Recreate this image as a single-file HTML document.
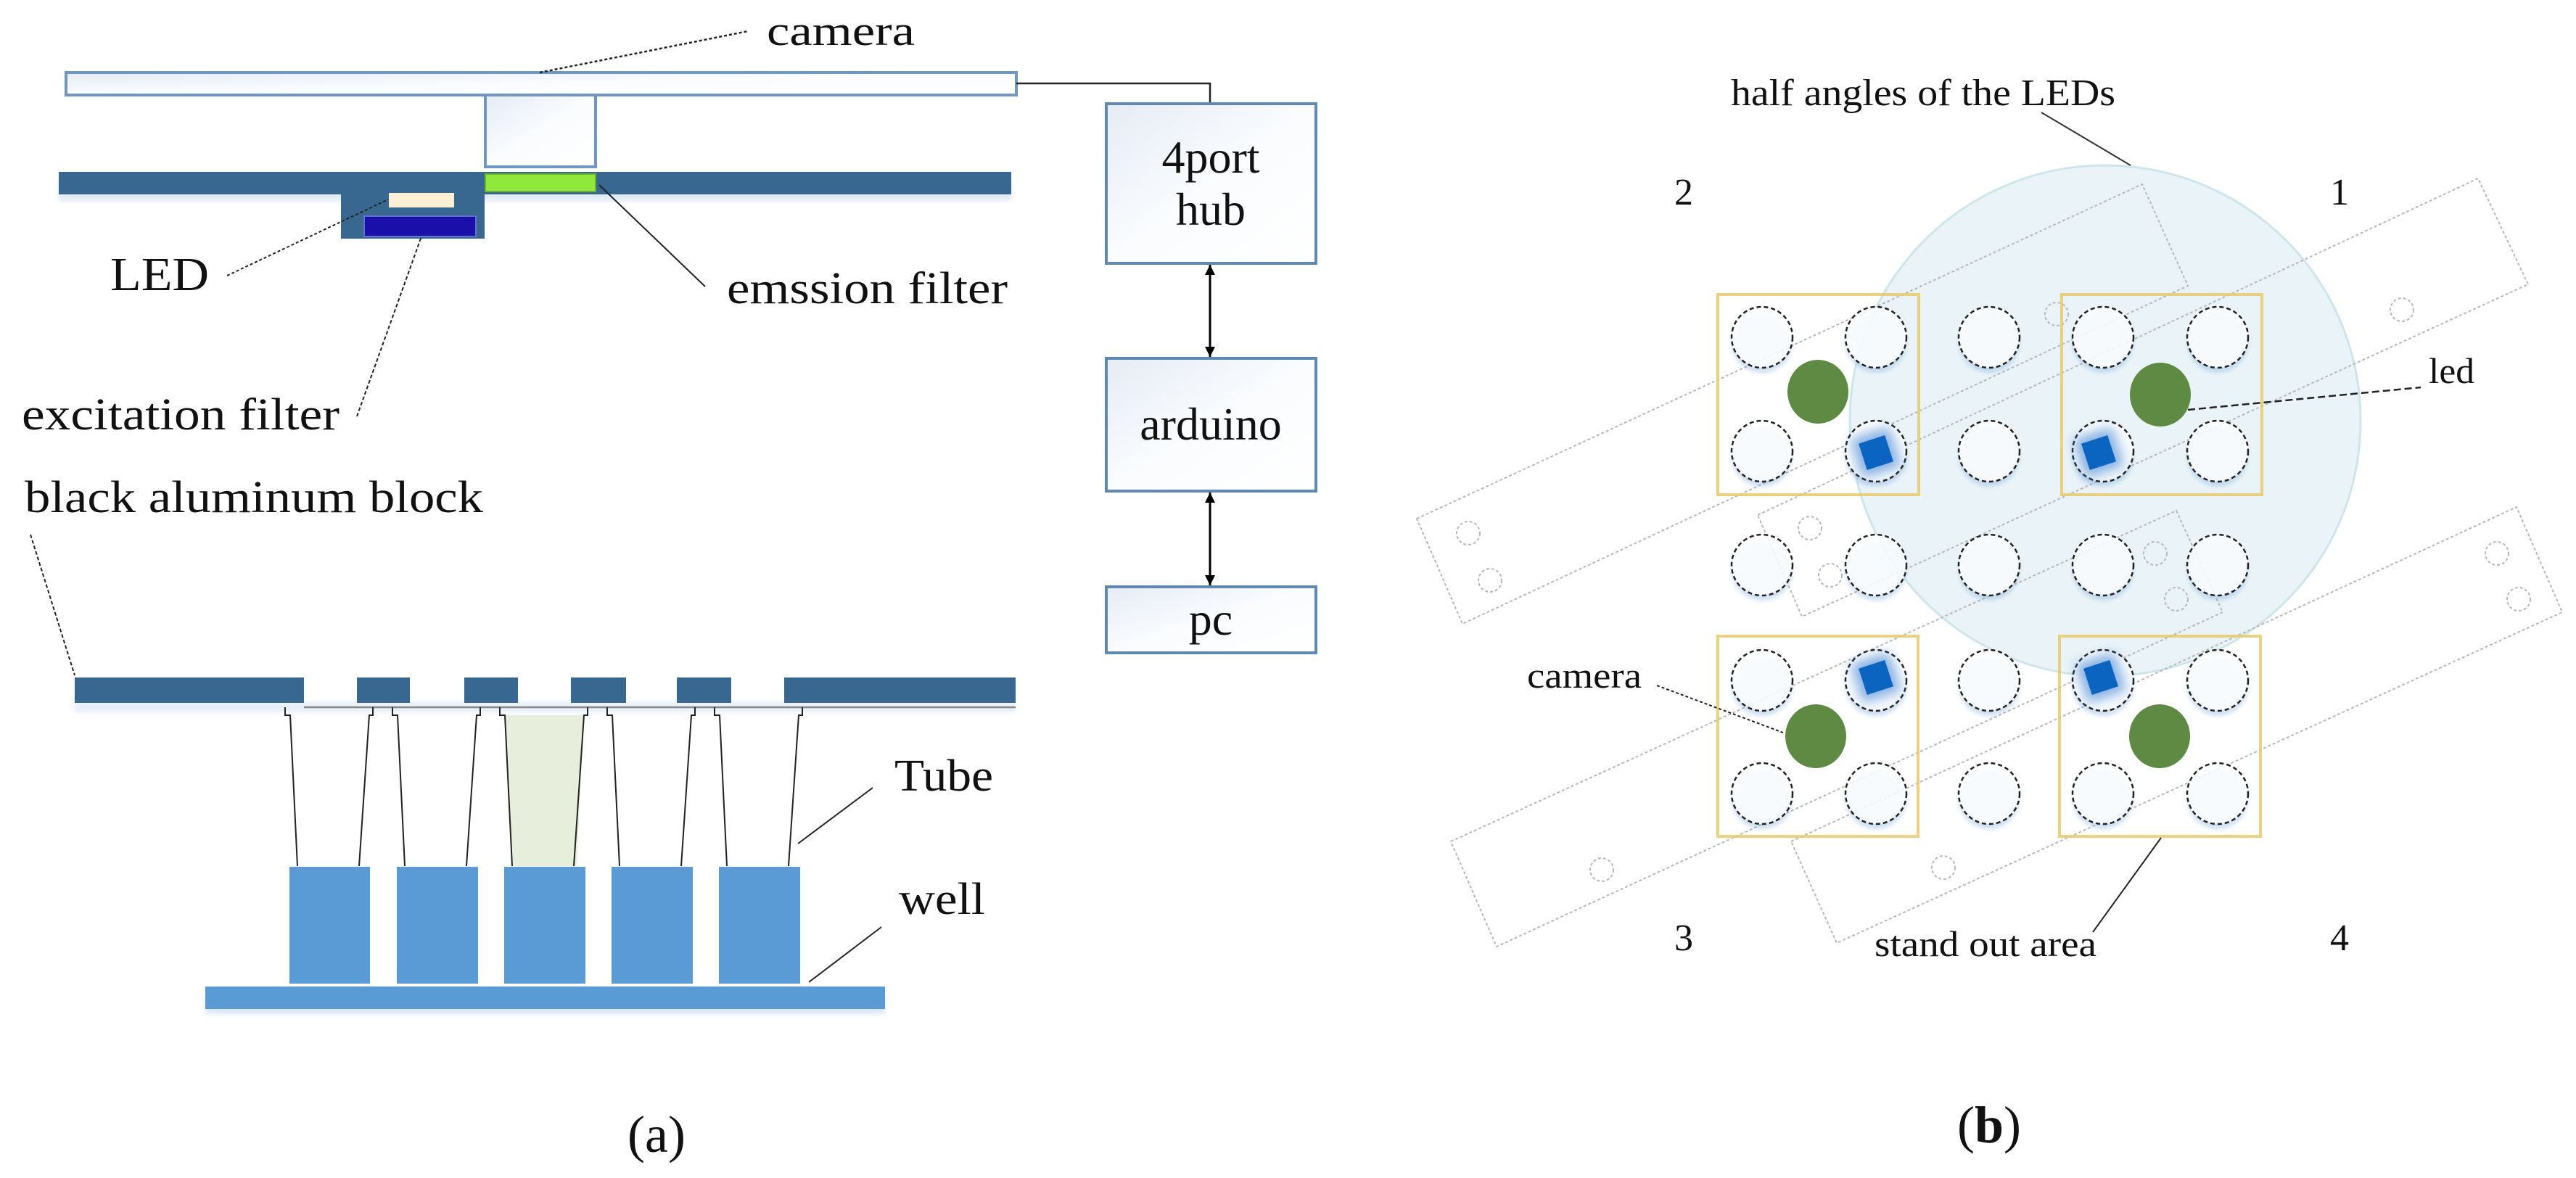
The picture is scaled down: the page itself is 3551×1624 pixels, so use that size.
<!DOCTYPE html>
<html><head><meta charset="utf-8"><style>
html,body{margin:0;padding:0;background:#fff;}
svg{display:block;}
text{font-family:"Liberation Serif",serif;fill:#111;}
</style></head><body>
<svg width="3551" height="1624" viewBox="0 0 3551 1624" xmlns="http://www.w3.org/2000/svg">
<defs>
<linearGradient id="lg" x1="0" y1="0" x2="1" y2="1"><stop offset="0" stop-color="#e6ecf5"/><stop offset="0.5" stop-color="#fafcfe"/><stop offset="1" stop-color="#ffffff"/></linearGradient>
<filter id="glow" x="-50%" y="-50%" width="200%" height="200%"><feGaussianBlur stdDeviation="8"/></filter>
<filter id="cs" x="-30%" y="-30%" width="160%" height="180%"><feGaussianBlur stdDeviation="3"/></filter>
<marker id="ah" viewBox="0 0 10 10" refX="10" refY="5" markerWidth="14" markerHeight="22" orient="auto-start-reverse" markerUnits="userSpaceOnUse"><path d="M0,0 L10,5 L0,10 z" fill="#000"/></marker>
</defs>

<!-- ===== (a) ===== -->
<rect x="91" y="100" width="1310" height="31" fill="url(#lg)" stroke="#6f97c0" stroke-width="4"/>
<polyline points="1401,115 1668,115 1668,143" fill="none" stroke="#222" stroke-width="2.5"/>
<rect x="669" y="131" width="152" height="99" fill="url(#lg)" stroke="#6f97c0" stroke-width="4"/>
<rect x="81" y="247" width="1313" height="30" fill="#5b8fd0" opacity="0.18" filter="url(#cs)"/>
<rect x="81" y="237" width="1313" height="31" fill="#386890"/>
<rect x="470" y="268" width="198" height="61" fill="#386890"/>
<rect x="669" y="240" width="152" height="24" fill="#8fe83a" stroke="#6db22a" stroke-width="2"/>
<rect x="536" y="266" width="90" height="20" fill="#fdf0d5"/>
<rect x="502" y="298" width="154" height="28" fill="#1a0fa8" stroke="#6070d0" stroke-width="2"/>

<text x="152" y="400" font-size="66" textLength="136" lengthAdjust="spacingAndGlyphs">LED</text>
<line x1="313" y1="380" x2="535" y2="275" stroke="#222" stroke-width="2" stroke-dasharray="4,3"/>
<text x="1002" y="418" font-size="62" textLength="387" lengthAdjust="spacingAndGlyphs">emssion filter</text>
<line x1="972" y1="395" x2="826" y2="255" stroke="#222" stroke-width="2"/>
<text x="30" y="592" font-size="62" textLength="438" lengthAdjust="spacingAndGlyphs">excitation filter</text>
<line x1="492" y1="574" x2="581" y2="326" stroke="#222" stroke-width="2" stroke-dasharray="5,3"/>
<text x="34" y="706" font-size="62" textLength="632" lengthAdjust="spacingAndGlyphs">black aluminum block</text>
<line x1="42" y1="737" x2="103" y2="931" stroke="#222" stroke-width="2" stroke-dasharray="5,3"/>
<text x="1057" y="62" font-size="58" textLength="204" lengthAdjust="spacingAndGlyphs">camera</text>
<line x1="744" y1="100" x2="1031" y2="43" stroke="#222" stroke-width="2.5" stroke-dasharray="4,3"/>

<!-- right boxes -->
<rect x="1525" y="143" width="289" height="220" fill="url(#lg)" stroke="#5f88b3" stroke-width="4"/>
<text x="1669" y="238" font-size="64" text-anchor="middle">4port</text>
<text x="1669" y="310" font-size="64" text-anchor="middle">hub</text>
<line x1="1668" y1="365" x2="1668" y2="492" stroke="#000" stroke-width="3" marker-start="url(#ah)" marker-end="url(#ah)"/>
<rect x="1525" y="494" width="289" height="183" fill="url(#lg)" stroke="#5f88b3" stroke-width="4"/>
<text x="1669" y="606" font-size="64" text-anchor="middle">arduino</text>
<line x1="1668" y1="679" x2="1668" y2="807" stroke="#000" stroke-width="3" marker-start="url(#ah)" marker-end="url(#ah)"/>
<rect x="1525" y="809" width="289" height="91" fill="url(#lg)" stroke="#5f88b3" stroke-width="4"/>
<text x="1669" y="875" font-size="64" text-anchor="middle">pc</text>

<!-- lower block -->
<g fill="#386890">
<rect x="103" y="934" width="316" height="35"/>
<rect x="492" y="934" width="73" height="35"/>
<rect x="640" y="934" width="74" height="35"/>
<rect x="787" y="934" width="76" height="35"/>
<rect x="933" y="934" width="75" height="35"/>
<rect x="1081" y="934" width="319" height="35"/>
</g>
<g fill="#5b8fd0" opacity="0.15" filter="url(#cs)"><rect x="103" y="968" width="1297" height="14"/></g>
<line x1="419" y1="975" x2="1400" y2="975" stroke="#888" stroke-width="2.5"/>
<polygon points="696,986 805,986 795,1194 707,1194" fill="#e8eedc"/>
<g fill="none" stroke="#222" stroke-width="2">
<path d="M393,975 v11 h7 L410,1194 M514,975 v11 h-5 L495,1194"/>
<path d="M541,975 v11 h7 L558,1194 M662,975 v11 h-5 L643,1194"/>
<path d="M689,975 v11 h7 L706,1194 M810,975 v11 h-5 L791,1194"/>
<path d="M837,975 v11 h7 L854,1194 M958,975 v11 h-5 L939,1194"/>
<path d="M985,975 v11 h7 L1002,1194 M1106,975 v11 h-5 L1087,1194"/>
</g>
<g fill="#5b9bd5">
<rect x="399" y="1195" width="111" height="161"/>
<rect x="547" y="1195" width="112" height="161"/>
<rect x="695" y="1195" width="112" height="161"/>
<rect x="843" y="1195" width="112" height="161"/>
<rect x="991" y="1195" width="112" height="161"/>
</g>
<rect x="283" y="1372" width="937" height="26" fill="#5b8fd0" opacity="0.2" filter="url(#cs)"/>
<rect x="283" y="1360" width="937" height="31" fill="#5b9bd5"/>
<text x="1233" y="1090" font-size="62" textLength="136" lengthAdjust="spacingAndGlyphs">Tube</text>
<line x1="1203" y1="1086" x2="1100" y2="1163" stroke="#222" stroke-width="2"/>
<text x="1239" y="1260" font-size="62" textLength="119" lengthAdjust="spacingAndGlyphs">well</text>
<line x1="1215" y1="1278" x2="1115" y2="1354" stroke="#222" stroke-width="2"/>
<text x="905" y="1588" font-size="72" text-anchor="middle">(a)</text>

<!-- ===== (b) ===== -->
<circle cx="2902" cy="580" r="352" fill="#eaf4f8" stroke="#cfe5ec" stroke-width="3"/>
<g fill="none" stroke="#b8b8b8" stroke-width="2" stroke-dasharray="4,3">
<polygon points="1953,715 2953,254 3016,394 2016,860"/>
<polygon points="2423,710 3416,246 3485,392 2484,850"/>
<polygon points="2000,1160 3000,704 3064,844 2063,1305"/>
<polygon points="2469,1160 3469,699 3532,844 2532,1300"/>
<circle cx="2024" cy="735" r="16"/><circle cx="2054" cy="800" r="16"/>
<circle cx="2495" cy="728" r="16"/><circle cx="2523" cy="793" r="16"/>
<circle cx="3311" cy="427" r="16"/><circle cx="2835" cy="433" r="16"/>
<circle cx="2971" cy="763" r="16"/><circle cx="3000" cy="826" r="16"/>
<circle cx="3442" cy="763" r="16"/><circle cx="3472" cy="826" r="16"/>
<circle cx="2208" cy="1199" r="16"/><circle cx="2679" cy="1196" r="16"/>
</g>
<g fill="none" stroke="#e8c96a" stroke-width="4" opacity="0.85">
<rect x="2368" y="406" width="277" height="276"/>
<rect x="2842" y="406" width="276" height="276"/>
<rect x="2368" y="877" width="276" height="276"/>
<rect x="2839" y="877" width="277" height="276"/>
</g>
<g fill="#7aa8dd" opacity="0.35" filter="url(#cs)">
<circle cx="2429" cy="472" r="42"/><circle cx="2586" cy="472" r="42"/><circle cx="2742" cy="472" r="42"/><circle cx="2899" cy="472" r="42"/><circle cx="3057" cy="472" r="42"/>
<circle cx="2429" cy="629" r="42"/><circle cx="2586" cy="629" r="42"/><circle cx="2742" cy="629" r="42"/><circle cx="2899" cy="629" r="42"/><circle cx="3057" cy="629" r="42"/>
<circle cx="2429" cy="786" r="42"/><circle cx="2586" cy="786" r="42"/><circle cx="2742" cy="786" r="42"/><circle cx="2899" cy="786" r="42"/><circle cx="3057" cy="786" r="42"/>
<circle cx="2429" cy="945" r="42"/><circle cx="2586" cy="945" r="42"/><circle cx="2742" cy="945" r="42"/><circle cx="2899" cy="945" r="42"/><circle cx="3057" cy="945" r="42"/>
<circle cx="2429" cy="1101" r="42"/><circle cx="2586" cy="1101" r="42"/><circle cx="2742" cy="1101" r="42"/><circle cx="2899" cy="1101" r="42"/><circle cx="3057" cy="1101" r="42"/>
</g>
<g fill="#fff" fill-opacity="0.85" stroke="#222" stroke-width="2.5" stroke-dasharray="6,4">
<circle cx="2429" cy="465" r="42"/><circle cx="2586" cy="465" r="42"/><circle cx="2742" cy="465" r="42"/><circle cx="2899" cy="465" r="42"/><circle cx="3057" cy="465" r="42"/>
<circle cx="2429" cy="622" r="42"/><circle cx="2586" cy="622" r="42"/><circle cx="2742" cy="622" r="42"/><circle cx="2899" cy="622" r="42"/><circle cx="3057" cy="622" r="42"/>
<circle cx="2429" cy="779" r="42"/><circle cx="2586" cy="779" r="42"/><circle cx="2742" cy="779" r="42"/><circle cx="2899" cy="779" r="42"/><circle cx="3057" cy="779" r="42"/>
<circle cx="2429" cy="938" r="42"/><circle cx="2586" cy="938" r="42"/><circle cx="2742" cy="938" r="42"/><circle cx="2899" cy="938" r="42"/><circle cx="3057" cy="938" r="42"/>
<circle cx="2429" cy="1094" r="42"/><circle cx="2586" cy="1094" r="42"/><circle cx="2742" cy="1094" r="42"/><circle cx="2899" cy="1094" r="42"/><circle cx="3057" cy="1094" r="42"/>
</g>
<g fill="#5e8a44">
<ellipse cx="2506" cy="540" rx="42" ry="44"/>
<ellipse cx="2978" cy="544" rx="42" ry="44"/>
<ellipse cx="2503" cy="1015" rx="42" ry="44"/>
<ellipse cx="2977" cy="1015" rx="42" ry="44"/>
</g>
<g>
<g transform="translate(2586,624) rotate(-18)"><rect x="-28" y="-28" width="56" height="56" fill="#3a7fd0" opacity="0.6" filter="url(#glow)"/><rect x="-19" y="-19" width="38" height="38" fill="#0a64c0"/></g>
<g transform="translate(2893,624) rotate(-18)"><rect x="-28" y="-28" width="56" height="56" fill="#3a7fd0" opacity="0.6" filter="url(#glow)"/><rect x="-19" y="-19" width="38" height="38" fill="#0a64c0"/></g>
<g transform="translate(2586,934) rotate(-18)"><rect x="-28" y="-28" width="56" height="56" fill="#3a7fd0" opacity="0.6" filter="url(#glow)"/><rect x="-19" y="-19" width="38" height="38" fill="#0a64c0"/></g>
<g transform="translate(2896,934) rotate(-18)"><rect x="-28" y="-28" width="56" height="56" fill="#3a7fd0" opacity="0.6" filter="url(#glow)"/><rect x="-19" y="-19" width="38" height="38" fill="#0a64c0"/></g>
</g>

<text x="2386" y="145" font-size="52" textLength="530" lengthAdjust="spacingAndGlyphs">half angles of the LEDs</text>
<line x1="2814" y1="155" x2="2937" y2="228" stroke="#333" stroke-width="2"/>
<text x="2321" y="282" font-size="52" text-anchor="middle">2</text>
<text x="3225" y="282" font-size="52" text-anchor="middle">1</text>
<text x="2321" y="1310" font-size="52" text-anchor="middle">3</text>
<text x="3225" y="1310" font-size="52" text-anchor="middle">4</text>
<text x="3348" y="528" font-size="50" textLength="63" lengthAdjust="spacingAndGlyphs">led</text>
<line x1="3016" y1="565" x2="3337" y2="534" stroke="#222" stroke-width="2.5" stroke-dasharray="10,5"/>
<text x="2105" y="948" font-size="50" textLength="158" lengthAdjust="spacingAndGlyphs">camera</text>
<line x1="2284" y1="945" x2="2458" y2="1010" stroke="#222" stroke-width="2" stroke-dasharray="4,3"/>
<text x="2584" y="1318" font-size="50" textLength="306" lengthAdjust="spacingAndGlyphs">stand out area</text>
<line x1="2885" y1="1285" x2="2979" y2="1155" stroke="#222" stroke-width="2"/>
<text x="2742" y="1575" font-size="72" text-anchor="middle">(<tspan font-weight="bold">b</tspan>)</text>
</svg>
</body></html>
